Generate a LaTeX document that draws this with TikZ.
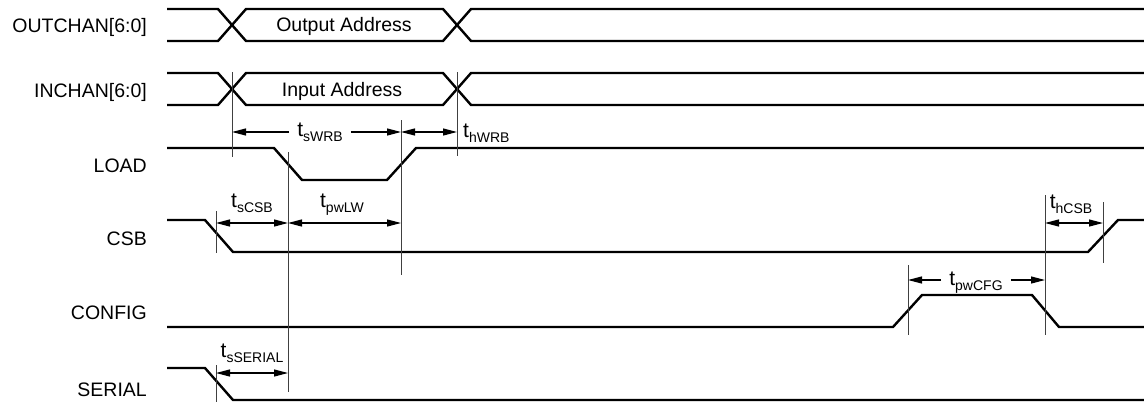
\documentclass[tikz,border=0pt]{standalone}
\usepackage{fontspec}
\setmainfont{Liberation Sans}
\usetikzlibrary{arrows.meta}

% t with a lowered, smaller suffix
\newcommand{\tsub}[1]{t\raisebox{-5pt}{\fontsize{14}{15}\selectfont #1}}

\begin{document}
\begin{tikzpicture}[x=1pt, y=-1pt,
    sig/.style={line width=2.4pt, line join=miter},
    guide/.style={line width=0.9pt, black!75},
    dim/.style={line width=1.2pt, -{Triangle[length=14pt, width=7pt]}},
    dimboth/.style={line width=1.2pt, {Triangle[length=14pt, width=7pt]}-{Triangle[length=14pt, width=7pt]}},
    signame/.style={anchor=base east, inner sep=0pt, font=\fontsize{19.5}{20}\selectfont},
    buslabel/.style={anchor=base, inner sep=0pt, font=\fontsize{19.5}{20}\selectfont},
    tlabel/.style={anchor=base, inner sep=0pt, font=\fontsize{21}{22}\selectfont}]
    \useasboundingbox (0,0) rectangle (1144,402);

    % Signal names
    \node[signame] (outchan) at (147,32) {OUTCHAN[6:0]};
    \node[signame] (inchan) at (147,97) {INCHAN[6:0]};
    \node[signame] (load) at (147,172) {LOAD};
    \node[signame] (csb) at (147,245) {CSB};
    \node[signame] (config) at (147,319.5) {CONFIG};
    \node[signame] (serial) at (147,396) {SERIAL};

    % Bus waveforms
    \draw[sig] (167,9) -- (218,9) -- (246,41) -- (443,41) -- (471,9) -- (1144,9);
    \draw[sig] (167,41) -- (218,41) -- (246,9) -- (443,9) -- (471,41) -- (1144,41);
    \node[buslabel] (outaddr) at (344,31.7) {Output Address};

    \draw[sig] (167,73) -- (218,73) -- (246,105) -- (443,105) -- (471,73) -- (1144,73);
    \draw[sig] (167,105) -- (218,105) -- (246,73) -- (443,73) -- (471,105) -- (1144,105);
    \node[buslabel] (inaddr) at (342,96.7) {Input Address};

    % Control waveforms
    \draw[sig] (167,148) -- (274,148) -- (302,180) -- (387,180) -- (416,148) -- (1144,148);
    \draw[sig] (167,220) -- (205,220) -- (233,252) -- (1088,252) -- (1118,220) -- (1144,220);
    \draw[sig] (167,327) -- (893,327) -- (922,295) -- (1032,295) -- (1059,327) -- (1144,327);
    \draw[sig] (167,368) -- (205,368) -- (233,400) -- (1144,400);

    % Reference lines
    \draw[guide] (232,72) -- (232,157);
    \draw[guide] (457,72) -- (457,156);
    \draw[guide] (401,120) -- (401,275);
    \draw[guide] (288,152) -- (288,392);
    \draw[guide] (216,211) -- (216,253);
    \draw[guide] (216,365) -- (216,402);
    \draw[guide] (908,265) -- (908,335);
    \draw[guide] (1045,195) -- (1045,335);
    \draw[guide] (1103,202) -- (1103,263);

    % Timing arrows
    \coordinate (wrbA) at (232,132);
    \coordinate (wrbB) at (401,132);
    \coordinate (wrbC) at (457,132);
    \node[tlabel, inner xsep=8pt] (swrb) at (320,136.5) {\tsub{sWRB}};
    \draw[dim] (wrbA -| swrb.west) -- (wrbA);
    \draw[dim] (wrbB -| swrb.east) -- (wrbB);
    \draw[dimboth] (wrbB) -- (wrbC);
    \node[tlabel, anchor=base west] (hwrb) at (463,137) {\tsub{hWRB}};

    \coordinate (csbA) at (216,223);
    \coordinate (csbB) at (288,223);
    \coordinate (csbC) at (401,223);
    \draw[dimboth] (csbA) -- (csbB);
    \node[tlabel] (scsb) at (252,207) {\tsub{sCSB}};
    \draw[dimboth] (csbB) -- (csbC);
    \node[tlabel] (pwlw) at (342,207) {\tsub{pwLW}};

    \coordinate (hcsbA) at (1045,223);
    \coordinate (hcsbB) at (1103,223);
    \draw[dimboth] (hcsbA) -- (hcsbB);
    \node[tlabel] (hcsb) at (1071,208) {\tsub{hCSB}};

    \coordinate (cfgA) at (908,280);
    \coordinate (cfgB) at (1045,280);
    \node[tlabel, inner xsep=8pt] (pwcfg) at (976,285) {\tsub{pwCFG}};
    \draw[dim] (cfgA -| pwcfg.west) -- (cfgA);
    \draw[dim] (cfgB -| pwcfg.east) -- (cfgB);

    \coordinate (serA) at (216,373);
    \coordinate (serB) at (288,373);
    \draw[dimboth] (serA) -- (serB);
    \node[tlabel] (sserial) at (252,357) {\tsub{sSERIAL}};
\end{tikzpicture}
\end{document}
